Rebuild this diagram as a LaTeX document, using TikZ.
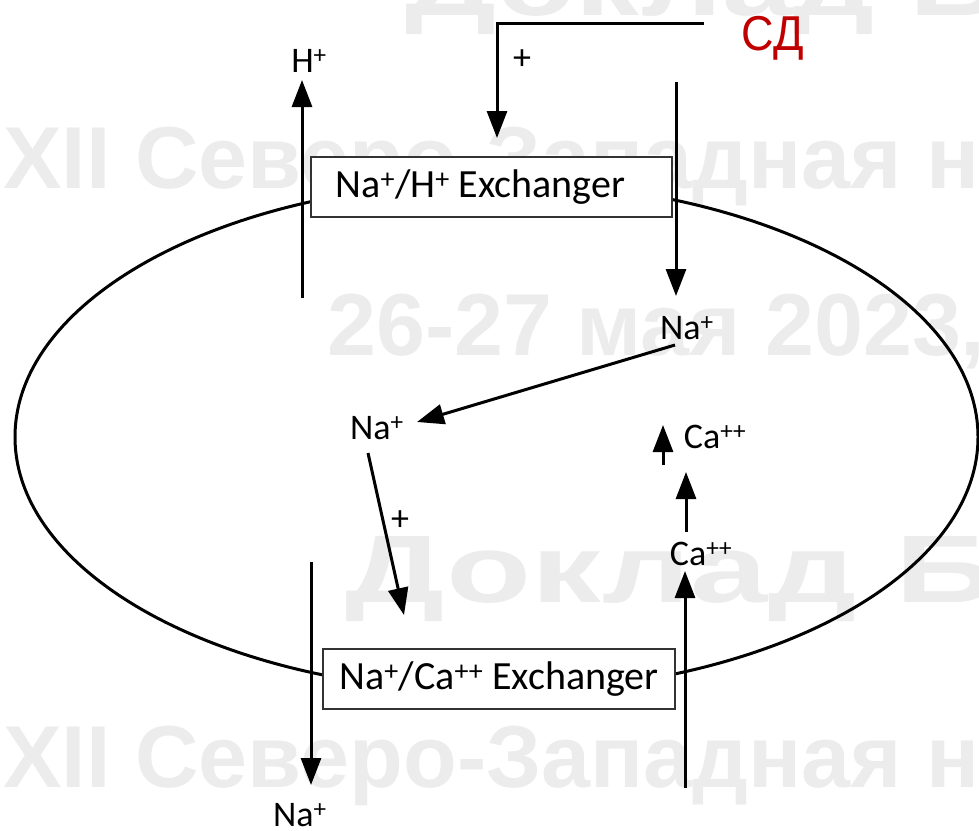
\documentclass[tikz,border=0pt]{standalone}
\usepackage{fontspec}
\setmainfont{Carlito}
\newfontfamily\wmfont{Liberation Sans}
\usetikzlibrary{arrows.meta}
\definecolor{wmgray}{RGB}{236,236,236}
\definecolor{sdred}{RGB}{192,0,0}
\tikzset{
  wm/.style={anchor=base west, inner sep=0pt, text=wmgray, font=\wmfont\bfseries\fontsize{88}{88}\selectfont},
  wmbig/.style={anchor=base west, inner sep=0pt, text=wmgray, font=\wmfont\bfseries\fontsize{96}{96}\selectfont},
  ion/.style={inner sep=0pt, font=\fontsize{36}{40}\selectfont},
  flow/.style={line width=3pt, -{Triangle[length=27pt,width=20pt]}},
  exbox/.style={draw=black!80, line width=1.5pt, fill=white, inner sep=0pt, font=\fontsize{40}{44}\selectfont},
  membrane/.style={line width=3pt},
}
\begin{document}
\begin{tikzpicture}[x=1pt,y=-1pt]
\useasboundingbox (0,0) rectangle (979,830);
\clip (0,0) rectangle (979,830);
% watermark
\node[wmbig, xscale=1.33] (w1) at (405,15) {Доклад Бо};
\node[wm] (w2) at (3,188) {XII Северо-Западная н};
\node[wm] (w3) at (327,355) {26-27 мая 2023,};
\node[wmbig, xscale=1.45] (w4) at (345,602) {Доклад Бо};
\node[wm] (w5) at (3,787) {XII Северо-Западная н};
% membrane
\draw[membrane] (496.5,437) ellipse [x radius=481.5, y radius=255];
% exchangers
\node[exbox, minimum width=361pt, minimum height=60pt] (nhe) at (491.5,187) {\hspace*{-22pt}Na\textsuperscript{+}/H\textsuperscript{+} Exchanger};
\node[exbox, minimum width=352pt, minimum height=60pt] (ncx) at (499,679) {Na\textsuperscript{+}/Ca\textsuperscript{++} Exchanger};
% labels
\node[ion] (h) at (309,61) {H\textsuperscript{+}};
\node[ion] (plus1) at (522,60) {+};
\node[inner sep=0pt, anchor=base, xscale=0.92, text=sdred, font=\wmfont\fontsize{49}{52}\selectfont] (sd) at (772.5,50) {СД};
\node[ion] (na1) at (687,328) {Na\textsuperscript{+}};
\node[ion] (na2) at (377,428) {Na\textsuperscript{+}};
\node[ion] (plus2) at (400,521) {+};
\node[ion] (na3) at (300,815) {Na\textsuperscript{+}};
\node[ion] (ca1) at (701,554) {Ca\textsuperscript{++}};
\node[ion] (ca2) at (715,437) {Ca\textsuperscript{++}};
% coordinates
\coordinate (hs) at (302,298);
\coordinate (ht) at (302,80);
\coordinate (b1) at (704,23);
\coordinate (b2) at (497,23);
\coordinate (b3) at (497,138);
\coordinate (ns) at (676,82);
\coordinate (nt) at (676,296);
\coordinate (d1s) at (675,345);
\coordinate (d1t) at (417,422);
\coordinate (d2s) at (368,453);
\coordinate (d2t) at (404,615);
\coordinate (ls) at (311,562);
\coordinate (lt) at (311,785);
\coordinate (rs) at (685,788);
\coordinate (rt) at (685,571);
\coordinate (ms) at (686,532);
\coordinate (mt) at (686,472);
\coordinate (ss) at (663,465);
\coordinate (st) at (663,425);
% arrows
\draw[flow] (hs) -- (ht);
\draw[flow] (b1) -- (b2) -- (b3);
\draw[flow] (ns) -- (nt);
\draw[flow] (d1s) -- (d1t);
\draw[flow] (d2s) -- (d2t);
\draw[flow] (ls) -- (lt);
\draw[flow] (rs) -- (rt);
\draw[flow] (ms) -- (mt);
\draw[flow] (ss) -- (st);
\end{tikzpicture}
\end{document}
